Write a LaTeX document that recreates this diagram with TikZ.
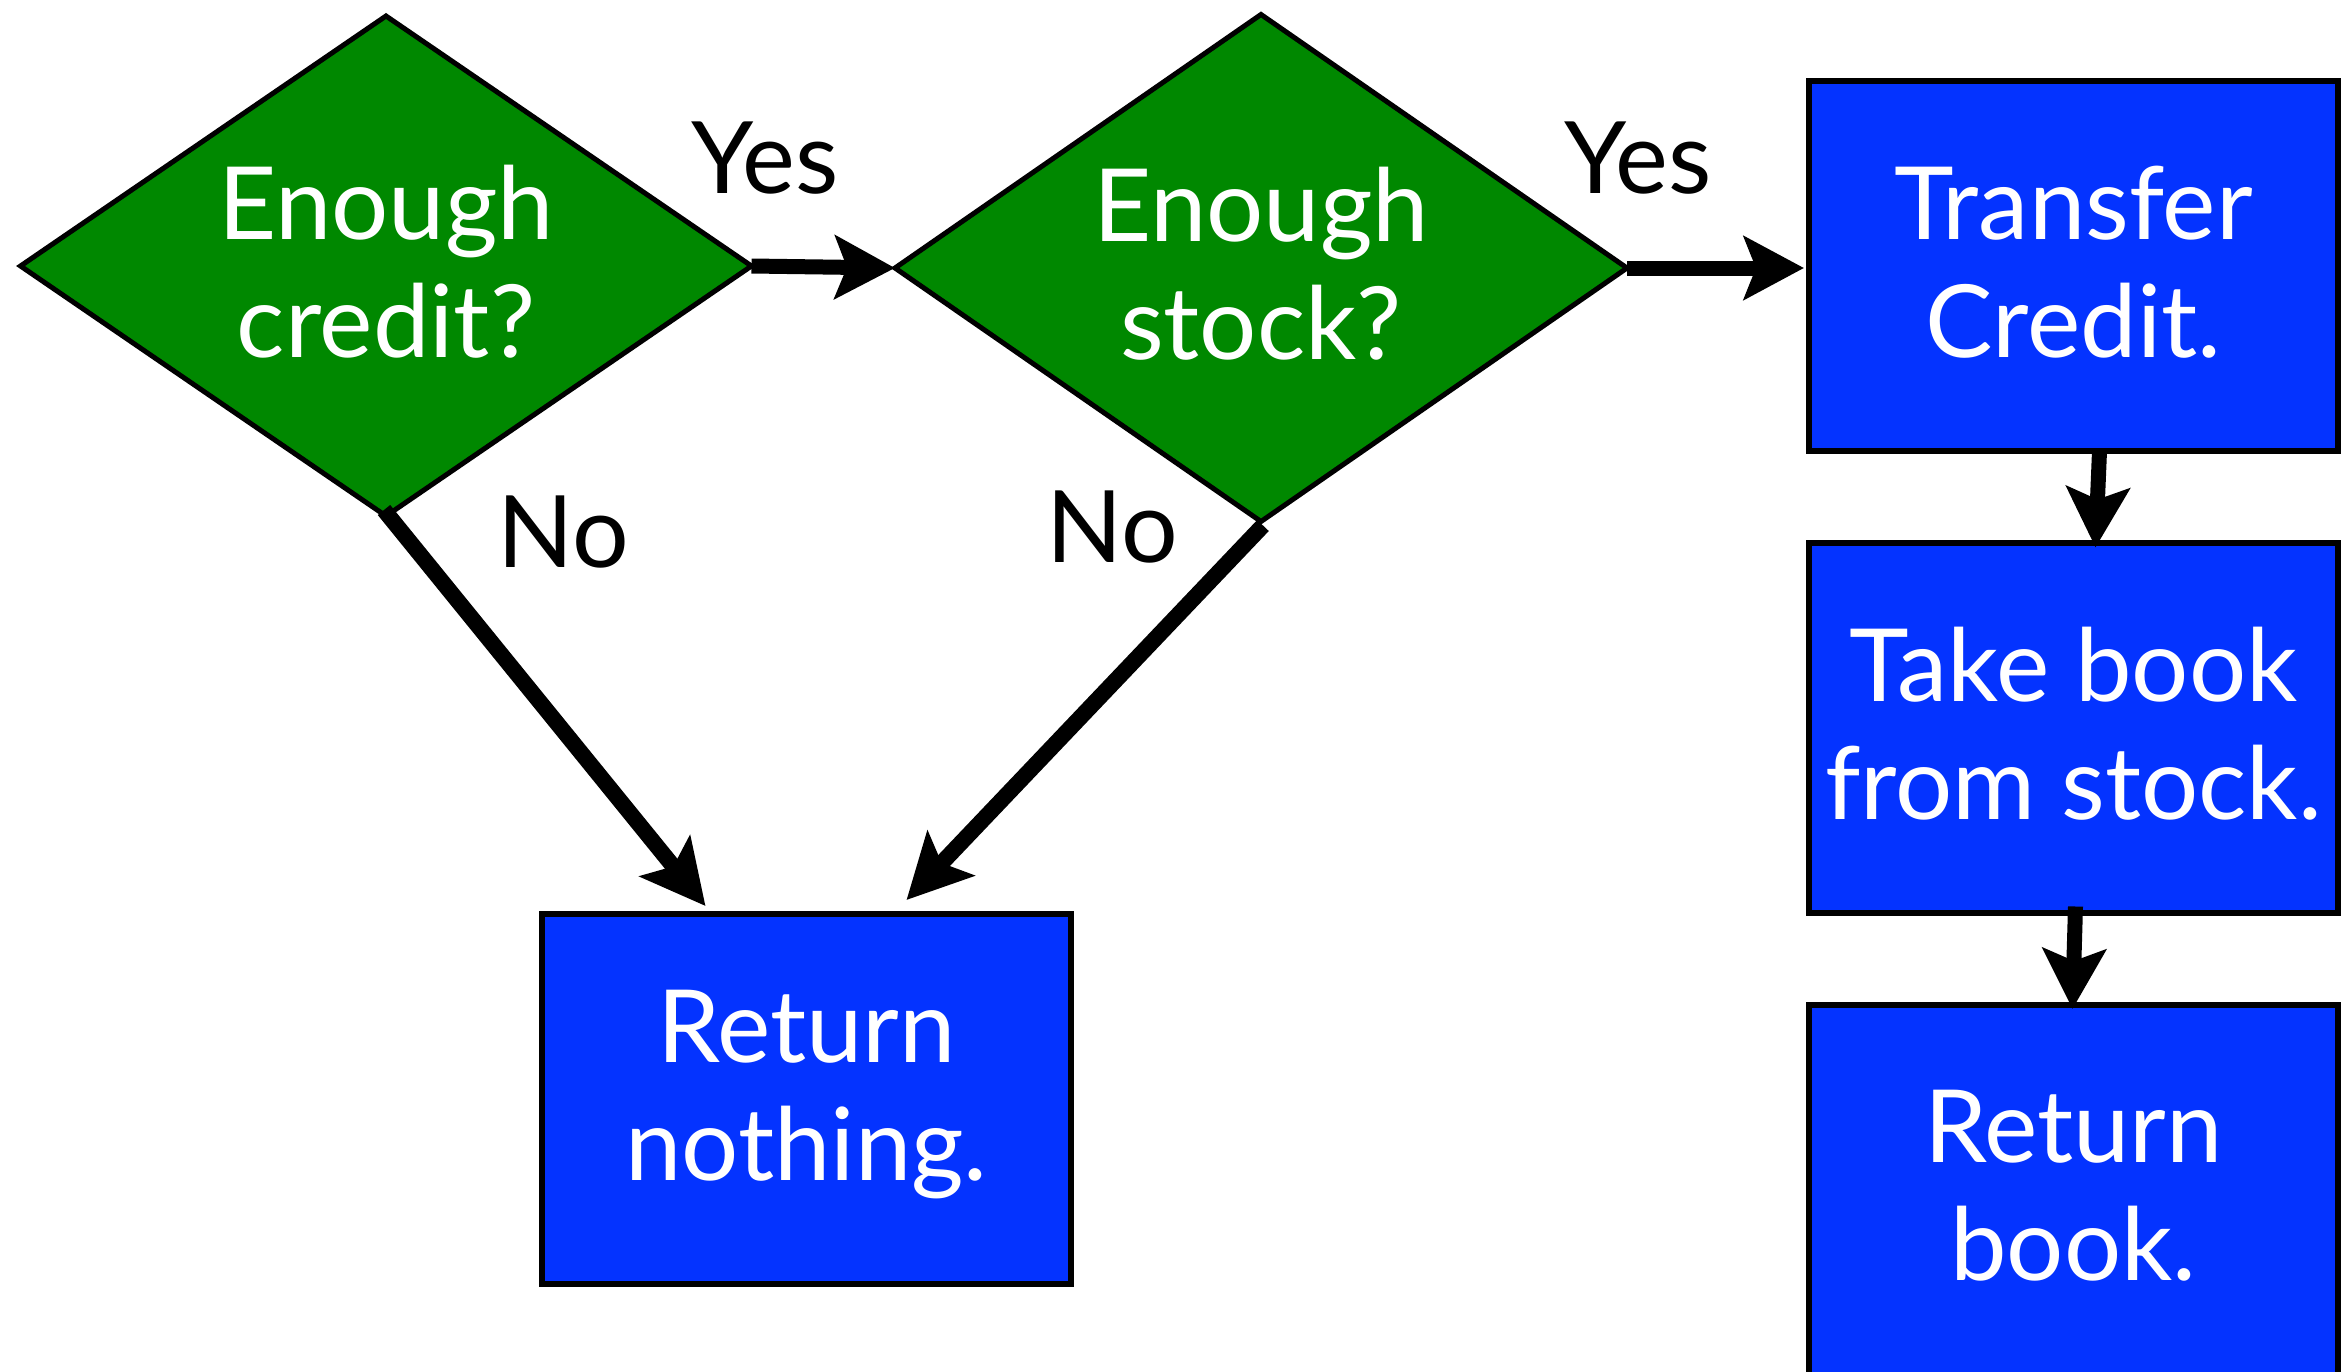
\documentclass[tikz,border=0pt]{standalone}
\usepackage{fontspec}
\setmainfont{Lato}
\usetikzlibrary{shapes.geometric,arrows.meta,calc}
\definecolor{decgreen}{RGB}{0,136,0}
\definecolor{actblue}{RGB}{4,51,255}
\begin{document}
\begin{tikzpicture}[x=1pt,y=-1pt,
  decision/.style={diamond, draw=black, line width=5pt, fill=decgreen,
    inner sep=0pt, outer sep=0pt, shape aspect=1.46},
  action/.style={rectangle, draw=black, line width=6pt, fill=actblue,
    minimum width=529pt, minimum height=370pt, inner sep=0pt, outer sep=0pt},
  boxtext/.style={text=white, align=center, inner sep=0pt,
    font=\fontsize{101}{118}\selectfont},
  edgelabel/.style={text=black, inner sep=0pt, font=\fontsize{100}{117}\selectfont},
  flow/.style={line width=15pt, -{Stealth[length=60pt,width=63pt,inset=12pt]}},
  noflow/.style={line width=16pt, -{Stealth[length=64pt,width=64pt,inset=13pt]}}
]
\useasboundingbox (0,0) rectangle (2343,1371);

% decisions
\node[decision, minimum width=731pt, minimum height=500pt] (credit) at (386,266) {};
\node[decision, minimum width=732pt, minimum height=507pt] (stock) at (1261,268) {};

% actions
\node[action] (transfer) at (2073.5,266) {};
\node[action] (take) at (2073.5,727.5) {};
\node[action] (retbook) at (2073.5,1190) {};
\node[action] (retnone) at (806.5,1099) {};

% white labels inside the shapes
\foreach \n/\t in {credit/{Enough\\credit?}, stock/{Enough\\stock?},
                   transfer/{Transfer\\Credit.}, take/{Take book\\from stock.},
                   retbook/{Return\\book.}, retnone/{Return\\nothing.}}{
  \node[boxtext] (\n-text) at ([yshift=4pt]\n.center) {\t};
}

% connectors
\draw[flow] (credit.east) -- (stock.west);
\draw[flow] (stock.east) -- ([shift={(-5,2)}]transfer.west);
\draw[flow] ([xshift=26pt]transfer.south) -- ([shift={(22,5)}]take.north);
\draw[flow] ([shift={(2,-6)}]take.south) -- ([shift={(-1,4)}]retbook.north);
\coordinate (noA) at ($(retnone.north)+(-101,-8)$);
\coordinate (noB) at ($(retnone.north)+(100,-14)$);
\draw[noflow] ([shift={(-2,-6)}]credit.south) -- (noA);
\draw[noflow] ([shift={(2,4)}]stock.south) -- (noB);

% branch labels
\node[edgelabel] (yes1) at (765,158) {Yes};
\node[edgelabel] (yes2) at (1638,158) {Yes};
\node[edgelabel] (no1) at (563,532) {No};
\node[edgelabel] (no2) at (1112,527) {No};
\end{tikzpicture}
\end{document}
